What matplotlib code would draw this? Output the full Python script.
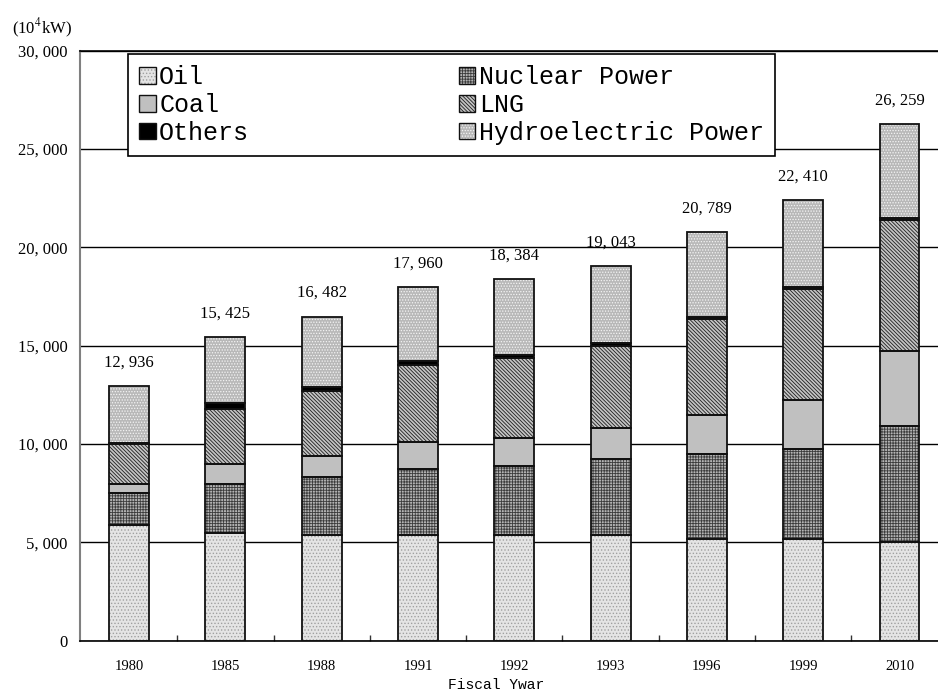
import numpy as np
import matplotlib
matplotlib.use("Agg")
import matplotlib.pyplot as plt
from matplotlib.patches import Patch
from matplotlib.ticker import FuncFormatter, MultipleLocator

# --- data (10^4 kW) ---
years = ['1980', '1985', '1988', '1991', '1992', '1993', '1996', '1999', '2010']
oil = [5890, 5460, 5400, 5400, 5400, 5400, 5180, 5180, 5000]
nuclear = [1600, 2500, 2900, 3320, 3470, 3860, 4300, 4570, 5940]
coal = [470, 1030, 1100, 1390, 1420, 1580, 1980, 2490, 3780]
lng = [2020, 2815, 3300, 3930, 4080, 4130, 4920, 5660, 6690]
others = [70, 305, 190, 170, 170, 190, 100, 90, 60]
hydro = [2886, 3315, 3592, 3750, 3844, 3883, 4309, 4420, 4789]
totals = [12936, 15425, 16482, 17960, 18384, 19043, 20789, 22410, 26259]

plt.rcParams['hatch.linewidth'] = 0.6
plt.rcParams['mathtext.fontset'] = 'stix'

serif = 'Liberation Serif'
mono = 'Liberation Mono'

# label, values, face colour, hatch, hatch colour
series = [
    ('Oil', oil, '#e4e4e4', '.....', '#a0a0a0'),
    ('Nuclear Power', nuclear, '#b4b4b4', '++++++', '#3c3c3c'),
    ('Coal', coal, '#c0c0c0', '', '#c0c0c0'),
    ('LNG', lng, '#c4c4c4', '\\\\\\\\\\\\\\\\\\', '#1e1e1e'),
    ('Others', others, '#000000', '', '#000000'),
    ('Hydroelectric Power', hydro, '#b8b8b8', '......', '#f4f4f4'),
]

fig = plt.figure(figsize=(9.38, 6.95), dpi=100)
ax = fig.add_axes([80 / 938, 54.3 / 695, 858 / 938, 590 / 695])

x = np.arange(len(years))
width = 0.415
bottom = np.zeros(len(years))
handles = {}
for label, vals, face, hatch, hcol in series:
    vals = np.array(vals, dtype=float)
    ax.bar(x, vals, width, bottom=bottom, color=face, edgecolor=hcol,
           hatch=hatch, linewidth=0, zorder=2)
    ax.bar(x, vals, width, bottom=bottom, fill=False, edgecolor='#111111',
           linewidth=1.3, zorder=3)
    handles[label] = (Patch(facecolor=face, edgecolor=hcol, hatch=hatch, linewidth=0),
                      Patch(fill=False, edgecolor='#111111', linewidth=1.0))
    bottom += vals

# total labels above bars
for xi, t in zip(x, totals):
    ax.annotate(f"{t:,}".replace(',', ', '), (xi, t), xytext=(0, 14),
                textcoords='offset points', ha='center', va='baseline',
                fontsize=12, family=serif)

ax.set_xlim(-0.51, 8.40)
ax.set_ylim(0, 30000)
ax.yaxis.set_major_locator(MultipleLocator(5000))
ax.yaxis.set_major_formatter(FuncFormatter(lambda v, p: f"{int(v):,}".replace(',', ', ')))
ax.grid(axis='y', color='black', linewidth=1.0, zorder=0)
ax.set_axisbelow(True)

ax.set_xticks(x)
ax.set_xticklabels(years, family=serif, fontsize=10.5)
ax.set_xticks(x[:-1] + 0.5, minor=True)
ax.tick_params(axis='x', which='major', length=0, pad=14)
ax.tick_params(axis='x', which='minor', direction='in', length=4, width=1, color='#333333')
ax.tick_params(axis='y', length=0, pad=9, labelsize=12)
for lab in ax.get_yticklabels():
    lab.set_family(serif)

ax.spines['right'].set_visible(False)
ax.spines['top'].set_linewidth(1.2)
ax.spines['bottom'].set_linewidth(1.2)
ax.spines['left'].set_color('#808080')
ax.spines['left'].set_linewidth(1.5)

fig.text(12 / 938, 1 - 28 / 695, '(10$^4$kW)', fontsize=12, family=serif,
         ha='left', va='center')
fig.text(496 / 938, 1 - 685 / 695, 'Fiscal Ywar', fontsize=10.5, family=mono,
         ha='center', va='center')

order = ['Oil', 'Coal', 'Others', 'Nuclear Power', 'LNG', 'Hydroelectric Power']
leg = fig.legend([handles[k] for k in order], order, ncol=2, mode='expand',
                 loc='upper left',
                 bbox_to_anchor=(128 / 938, 1 - 157 / 695, 647 / 938, 103 / 695),
                 borderaxespad=0, prop={'family': mono, 'size': 18},
                 handlelength=0.65, handleheight=0.65, handletextpad=0.15,
                 labelspacing=0.15, borderpad=0.45, fancybox=False, framealpha=1)
leg.get_frame().set_edgecolor('black')
leg.get_frame().set_linewidth(1.2)

fig.savefig('out.png', dpi=100)
